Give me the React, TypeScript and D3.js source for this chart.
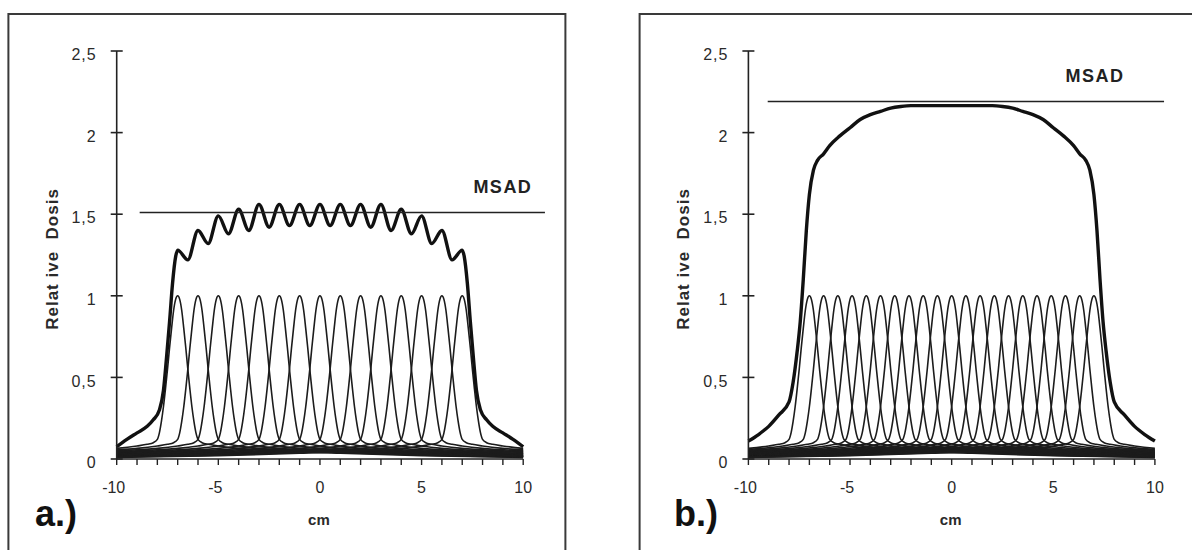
import React, { useEffect, useRef } from 'react';
import * as d3 from 'd3';

// single slice dose profile (offset from slice centre in cm, relative dose)
const profileOffset = [-17, -12, -8, -5, -3, -2, -1.5, -1.2, -1, -0.9, -0.8, -0.7, -0.6, -0.5, -0.4, -0.3, -0.2, -0.1, 0,
    0.1, 0.2, 0.3, 0.4, 0.5, 0.6, 0.7, 0.8, 0.9, 1, 1.2, 1.5, 2, 3, 5, 8, 12, 17];
const profileDose = [0.01, 0.02, 0.035, 0.05, 0.065, 0.08, 0.09, 0.1, 0.12, 0.16, 0.23, 0.32, 0.43, 0.55, 0.68, 0.8, 0.91, 0.978, 1,
    0.978, 0.91, 0.8, 0.68, 0.55, 0.43, 0.32, 0.23, 0.16, 0.12, 0.1, 0.09, 0.08, 0.065, 0.05, 0.035, 0.02, 0.01];

// slice positions
const centersA = [-7, -6, -5, -4, -3, -2, -1, 0, 1, 2, 3, 4, 5, 6, 7];
const centersB = [-7, -6.3, -5.6, -4.9, -4.2, -3.5, -2.8, -2.1, -1.4, -0.7, 0, 0.7, 1.4, 2.1, 2.8, 3.5, 4.2, 4.9, 5.6, 6.3, 7];

// summed dose, a.)
const totalAX = [-10, -9.5, -9, -8.5, -8.2, -7.9, -7.7, -7.55, -7.4, -7.25, -7.1, -7, -6.5, -6, -5.5, -5, -4.5, -4, -3.5, -3, -2.5, -2, -1.5, -1, -0.5, 0,
    0.5, 1, 1.5, 2, 2.5, 3, 3.5, 4, 4.5, 5, 5.5, 6, 6.5, 7, 7.1, 7.25, 7.4, 7.55, 7.7, 7.9, 8.2, 8.5, 9, 9.5, 10];
const totalADose = [0.075, 0.12, 0.16, 0.2, 0.24, 0.3, 0.42, 0.62, 0.84, 1.08, 1.24, 1.28, 1.22, 1.40, 1.32, 1.49, 1.38, 1.53, 1.40, 1.56, 1.42, 1.56, 1.43, 1.56, 1.43, 1.56,
    1.43, 1.56, 1.43, 1.56, 1.42, 1.56, 1.40, 1.53, 1.38, 1.49, 1.32, 1.40, 1.22, 1.28, 1.24, 1.08, 0.84, 0.62, 0.42, 0.3, 0.24, 0.2, 0.16, 0.12, 0.075];

// summed dose, b.)
const totalBX = [-10, -9.5, -9, -8.5, -8, -7.8, -7.6, -7.45, -7.3, -7.15, -7, -6.8, -6.6, -6.3, -6, -5.5, -5, -4.5, -4, -3.5, -3, -2.5, -2, 0,
    2, 2.5, 3, 3.5, 4, 4.5, 5, 5.5, 6, 6.3, 6.6, 6.8, 7, 7.15, 7.3, 7.45, 7.6, 7.8, 8, 8.5, 9, 9.5, 10];
const totalBDose = [0.11, 0.15, 0.2, 0.27, 0.35, 0.47, 0.66, 0.84, 1.1, 1.4, 1.62, 1.77, 1.83, 1.87, 1.92, 1.98, 2.03, 2.08, 2.11, 2.13, 2.15, 2.16, 2.165, 2.165,
    2.165, 2.16, 2.15, 2.13, 2.11, 2.08, 2.03, 1.98, 1.92, 1.87, 1.83, 1.77, 1.62, 1.4, 1.1, 0.84, 0.66, 0.47, 0.35, 0.27, 0.2, 0.15, 0.11];

const msadA = 1.51;
const msadB = 2.19;
const msadSpanA = [-8.87, 11.07];
const msadSpanB = [-9.05, 10.45];

const yTickValues = [0, 0.5, 1, 1.5, 2, 2.5];
const yTickLabels = ['0', '0,5', '1', '1,5', '2', '2,5'];
const xTickValues = [-10, -5, 0, 5, 10];
const xMinorTicks = [-10, -9, -8, -7, -6, -5, -4, -3, -2, -1, 0, 1, 2, 3, 4, 5, 6, 7, 8, 9, 10];

const width = 1192;
const height = 550;
const font = '"Liberation Sans", Arial, sans-serif';

function drawPanel(svg, opts) {
    const { id, axisLeft, frameLeft, centers, totalX, totalDose, msad, msadSpan, msadLabelX, panelLabel, panelLabelX } = opts;

    const x = d3.scaleLinear().domain([-10, 10]).range([axisLeft, axisLeft + 406.5]);
    const y = d3.scaleLinear().domain([0, 2.5]).range([459, 51]);

    const g = svg.append('g');

    g.append('rect')
        .attr('x', frameLeft)
        .attr('y', 14)
        .attr('width', 557)
        .attr('height', 600)
        .attr('fill', 'none')
        .attr('stroke', '#3a3a3a')
        .attr('stroke-width', 2);

    g.append('clipPath')
        .attr('id', id)
        .append('rect')
        .attr('x', x(-10))
        .attr('y', 0)
        .attr('width', x(10) - x(-10))
        .attr('height', height);

    const line = d3.line()
        .x((d) => x(d[0]))
        .y((d) => y(d[1]))
        .curve(d3.curveMonotoneX);

    // single slice profiles
    g.append('g')
        .attr('clip-path', `url(#${id})`)
        .selectAll('path')
        .data(centers)
        .enter()
        .append('path')
        .attr('d', (c) => line(profileOffset.map((o, i) => [c + o, profileDose[i]])))
        .attr('fill', 'none')
        .attr('stroke', '#1c1c1c')
        .attr('stroke-width', 1.6);

    // summed profile
    g.append('path')
        .attr('d', line(totalX.map((v, i) => [v, totalDose[i]])))
        .attr('fill', 'none')
        .attr('stroke', '#111')
        .attr('stroke-width', 3.4)
        .attr('stroke-linejoin', 'round');

    // MSAD line
    g.append('line')
        .attr('x1', x(msadSpan[0]))
        .attr('x2', x(msadSpan[1]))
        .attr('y1', y(msad))
        .attr('y2', y(msad))
        .attr('stroke', '#222')
        .attr('stroke-width', 1.5);

    g.append('text')
        .attr('x', x(msadLabelX))
        .attr('y', y(msad) - 20)
        .attr('text-anchor', 'middle')
        .style('font-family', font)
        .style('font-weight', 'bold')
        .style('font-size', '18px')
        .style('letter-spacing', '1.5px')
        .attr('fill', '#222')
        .text('MSAD');

    // y axis
    g.append('line')
        .attr('x1', x(-10)).attr('x2', x(-10))
        .attr('y1', y(0)).attr('y2', y(2.5))
        .attr('stroke', '#222')
        .attr('stroke-width', 1.6);

    g.selectAll('.ytick')
        .data(yTickValues)
        .enter()
        .append('line')
        .attr('x1', x(-10) - 6).attr('x2', x(-10) + 6)
        .attr('y1', (d) => y(d)).attr('y2', (d) => y(d))
        .attr('stroke', '#222')
        .attr('stroke-width', 1.6);

    g.selectAll('.ylabel')
        .data(yTickValues)
        .enter()
        .append('text')
        .attr('x', x(-10) - 20)
        .attr('y', (d) => y(d) + 5)
        .attr('text-anchor', 'end')
        .attr('dominant-baseline', 'middle')
        .style('font-family', font)
        .style('font-size', '16px')
        .style('letter-spacing', '1px')
        .attr('fill', '#2a2a2a')
        .text((d, i) => yTickLabels[i]);

    // x axis
    g.append('line')
        .attr('x1', x(-10)).attr('x2', x(10))
        .attr('y1', y(0)).attr('y2', y(0))
        .attr('stroke', '#222')
        .attr('stroke-width', 1.6);

    g.selectAll('.xtick')
        .data(xMinorTicks)
        .enter()
        .append('line')
        .attr('x1', (d) => x(d)).attr('x2', (d) => x(d))
        .attr('y1', y(0)).attr('y2', y(0) + 6)
        .attr('stroke', '#222')
        .attr('stroke-width', 1.4);

    g.selectAll('.xlabel')
        .data(xTickValues)
        .enter()
        .append('text')
        .attr('x', (d) => x(d) - (d < 0 ? 3 : 0))
        .attr('y', y(0) + 30)
        .attr('text-anchor', 'middle')
        .attr('dominant-baseline', 'middle')
        .style('font-family', font)
        .style('font-size', '16px')
        .attr('fill', '#2a2a2a')
        .text((d) => String(d));

    g.append('text')
        .attr('x', x(0) - 1)
        .attr('y', 525)
        .attr('text-anchor', 'middle')
        .style('font-family', font)
        .style('font-weight', 'bold')
        .style('font-size', '15px')
        .attr('fill', '#2a2a2a')
        .text('cm');

    g.append('text')
        .attr('transform', `translate(${x(-10) - 59}, 259) rotate(-90)`)
        .attr('text-anchor', 'middle')
        .style('font-family', font)
        .style('font-weight', 'bold')
        .style('font-size', '17px')
        .style('letter-spacing', '1px')
        .style('white-space', 'pre')
        .attr('fill', '#2a2a2a')
        .text('Relat ive  Dosis');

    g.append('text')
        .attr('x', panelLabelX)
        .attr('y', 526)
        .style('font-family', font)
        .style('font-weight', 'bold')
        .style('font-size', '36px')
        .attr('fill', '#111')
        .text(panelLabel);
}

export default function App() {
    const ref = useRef(null);

    useEffect(() => {
        const svg = d3.select(ref.current);
        svg.selectAll('*').remove();

        svg.append('rect')
            .attr('width', width)
            .attr('height', height)
            .attr('fill', '#fff');

        drawPanel(svg, {
            id: 'clip-a', axisLeft: 116.7, frameLeft: 8.4,
            centers: centersA, totalX: totalAX, totalDose: totalADose,
            msad: msadA, msadSpan: msadSpanA, msadLabelX: 9.0,
            panelLabel: 'a.)', panelLabelX: 35,
        });

        drawPanel(svg, {
            id: 'clip-b', axisLeft: 748.4, frameLeft: 639.6,
            centers: centersB, totalX: totalBX, totalDose: totalBDose,
            msad: msadB, msadSpan: msadSpanB, msadLabelX: 7.05,
            panelLabel: 'b.)', panelLabelX: 674,
        });
    }, []);

    return (
        <svg
            ref={ref}
            width={width}
            height={height}
            style={{ position: 'absolute', left: 0, top: 0, display: 'block' }}
        />
    );
}
